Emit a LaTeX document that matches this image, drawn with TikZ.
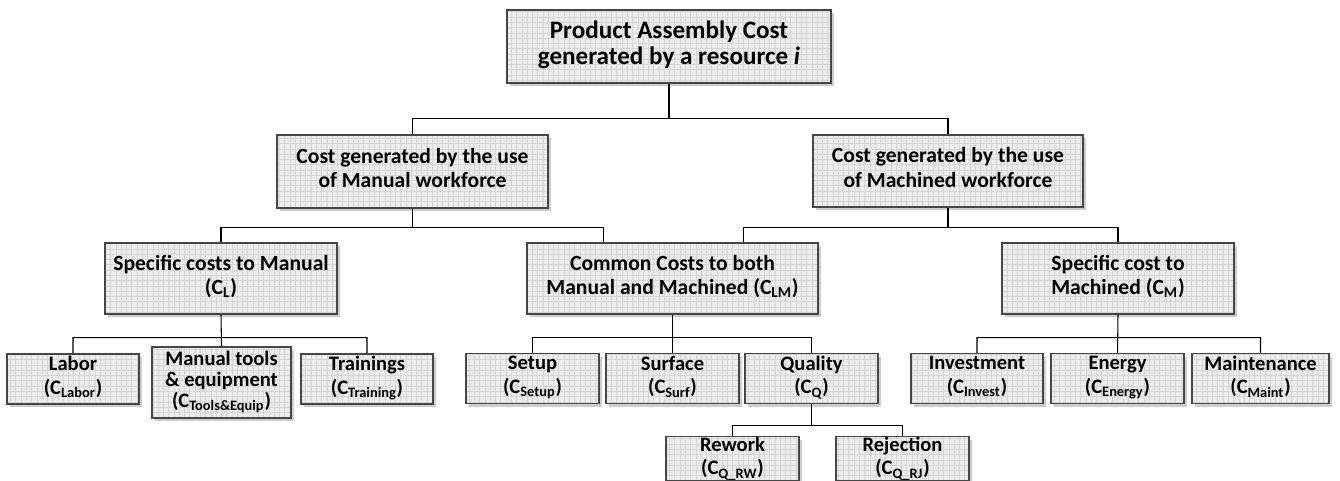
\documentclass[tikz,border=0pt]{standalone}
\usepackage{fontspec}
\setmainfont{Carlito}
\usetikzlibrary{calc,patterns,shadows}
\definecolor{boxfill}{RGB}{236,236,236}
\definecolor{boxgrid}{RGB}{214,214,214}
\definecolor{boxline}{RGB}{70,70,70}
\definecolor{shadowgray}{RGB}{200,200,200}
\tikzset{
  costbox/.style={draw=boxline, line width=0.6pt, inner sep=1pt, align=center,
    font=\fontsize{12.3}{13.8}\selectfont\bfseries,
    drop shadow={shadow xshift=0.06cm, shadow yshift=-0.06cm,
      fill=shadowgray, opacity=0.9},
    preaction={fill=boxfill}, pattern=grid, pattern color=boxgrid},
  padded/.style={execute at begin node=\strut, execute at end node=\strut},
  midbox/.style={costbox, padded, minimum height=1.42cm},
  leaffont/.style={font=\fontsize{11.7}{13.4}\selectfont\bfseries},
  leafbox/.style={costbox, padded, leaffont, minimum width=2.64cm,
    minimum height=1.0cm},
  lowbox/.style={costbox, leaffont, minimum width=2.66cm,
    minimum height=0.86cm, inner sep=0pt},
  link/.style={black, line width=0.6pt}
}
\newcommand{\sub}[1]{\textsubscript{#1}}

\begin{document}
\begin{tikzpicture}[x=1cm,y=1cm]
  \useasboundingbox (0,0) rectangle (26.8,-9.62);

  % Level 0
  \node[costbox, padded, minimum width=6.48cm, minimum height=1.46cm,
    font=\fontsize{14.3}{14.9}\selectfont\bfseries] (root) at (13.38,-0.93)
    {Product Assembly Cost\\generated by a resource \textit{i}};

  % Level 1
  \node[costbox, padded, minimum width=5.42cm, minimum height=1.46cm] (manual)
    at (8.25,-3.43) {Cost generated by the use\\of Manual workforce};
  \node[costbox, padded, minimum width=5.40cm, minimum height=1.44cm]
    (machined) at (18.96,-3.42) {Cost generated by the use\\of Machined workforce};

  % Level 2
  \node[midbox, minimum width=4.64cm] (specman) at (4.42,-5.57)
    {Specific costs to Manual\\(C\sub{L})};
  \node[midbox, minimum width=5.82cm] (common) at (13.45,-5.57)
    {Common Costs to both\\Manual and Machined (C\sub{LM})};
  \node[midbox, minimum width=4.64cm] (specmach) at (22.36,-5.57)
    {Specific cost to\\Machined (C\sub{M})};

  % Level 3
  \node[leafbox] (labor) at (1.46,-7.58) {Labor\\(C\sub{Labor})};
  \node[leafbox, minimum width=2.78cm, minimum height=1.42cm,
    font=\fontsize{11.7}{12}\selectfont\bfseries] (tools)
    at (4.43,-7.65) {Manual tools\\\& equipment\\(C\sub{Tools\&Equip})};
  \node[leafbox] (train) at (7.34,-7.58) {Trainings\\(C\sub{Training})};
  \node[leafbox, minimum width=2.66cm] (setup) at (10.65,-7.57)
    {Setup\\(C\sub{Setup})};
  \node[leafbox, minimum width=2.66cm] (surf) at (13.45,-7.57)
    {Surface\\(C\sub{Surf})};
  \node[leafbox, minimum width=2.66cm] (quality) at (16.23,-7.57)
    {Quality\\(C\sub{Q})};
  \node[leafbox] (invest) at (19.54,-7.57) {Investment\\(C\sub{Invest})};
  \node[leafbox, minimum width=2.66cm] (energy) at (22.35,-7.57)
    {Energy\\(C\sub{Energy})};
  \node[leafbox, minimum width=2.74cm] (maint) at (25.21,-7.57)
    {Maintenance\\(C\sub{Maint})};

  % Level 4
  \node[lowbox] (rework) at (14.65,-9.17) {Rework\\(C\sub{Q\_RW})};
  \node[lowbox] (reject) at (18.05,-9.17) {Rejection\\(C\sub{Q\_RJ})};

  % Connectors
  \draw[link] (manual.north) |- ($(root.south)+(0,-0.7)$) -| (machined.north)
    (root.south) -- ++(0,-0.7);
  \draw[link] (specman.north) |- ($(manual.south)+(0,-0.38)$)
    -| ($(common.north west)!0.265!(common.north east)$)
    (manual.south) -- ++(0,-0.38);
  \draw[link] ($(common.north west)!0.742!(common.north east)$)
    |- ($(machined.south)+(0,-0.4)$) -| (specmach.north)
    (machined.south) -- ++(0,-0.4);
  \draw[link] (labor.north) |- ($(specman.south)+(0,-0.46)$) -| (train.north)
    (specman.south) -- (tools.north);
  \draw[link] (setup.north) |- ($(common.south)+(0,-0.46)$) -| (quality.north)
    (common.south) -- (surf.north);
  \draw[link] (invest.north) |- ($(specmach.south)+(0,-0.46)$) -| (maint.north)
    (specmach.south) -- (energy.north);
  \draw[link] (rework.north) |- ($(quality.south)+(0,-0.42)$) -| (reject.north)
    (quality.south) -- ++(0,-0.42);
\end{tikzpicture}
\end{document}
